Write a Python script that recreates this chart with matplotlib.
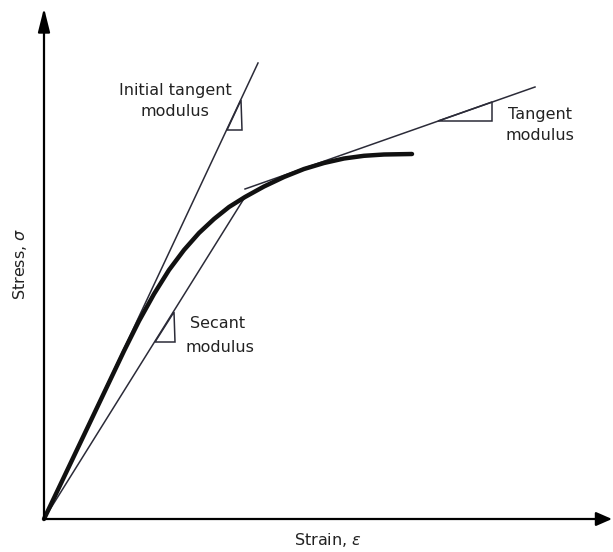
import numpy as np
import matplotlib.pyplot as plt
from matplotlib.patches import Polygon

# stress-strain curve (arbitrary units, origin at the axes corner)
strain = [0, 20, 40, 60, 80, 95, 110, 125, 140, 155, 170, 185, 201,
          220, 240, 260, 280, 300, 320, 340, 368]
stress = [0, 42, 84, 126, 168, 198, 225, 249, 269, 286, 300, 312, 322,
          332.5, 342, 350, 356, 360.5, 363.2, 364.5, 365]

# construction lines: (x0, y0, x1, y1)
initial_tangent = [0, 0, 214, 456]
secant = [0, 0, 201, 322]
tangent = [201, 330, 491, 432]

# slope triangles
tri_initial = [(197, 419), (198, 389), (183, 389)]
tri_secant = [(130, 207), (131, 177), (111, 177)]
tri_tangent = [(394, 398), (448, 398), (448, 417)]

line_col = '#2b2b38'
fs = 11.5

fig = plt.figure(figsize=(6.13, 5.52), dpi=100)
ax = fig.add_axes([0, 0, 1, 1])
ax.set_xlim(-44, 569)
ax.set_ylim(-33, 519)
ax.axis('off')

# axes with arrows
ax.annotate('', xy=(568, 0), xytext=(0, 0),
            arrowprops=dict(arrowstyle='-|>,head_length=0.8,head_width=0.35', lw=1.6,
                            color='k', mutation_scale=12, shrinkA=0, shrinkB=0))
ax.annotate('', xy=(0, 511), xytext=(0, 0),
            arrowprops=dict(arrowstyle='-|>,head_length=1.2,head_width=0.3', lw=1.6,
                            color='k', mutation_scale=12, shrinkA=0, shrinkB=0))

for ln in (initial_tangent, secant, tangent):
    ax.plot([ln[0], ln[2]], [ln[1], ln[3]], color=line_col, lw=1.1)

for tri in (tri_initial, tri_secant, tri_tangent):
    ax.add_patch(Polygon(tri, closed=True, fill=False, ec=line_col, lw=1.1))

ax.plot(strain, stress, color='#111111', lw=3.2, solid_capstyle='round', solid_joinstyle='round')

# labels
ax.text(131, 429, 'Initial tangent', ha='center', va='center', fontsize=fs, color='#222')
ax.text(131, 407, 'modulus', ha='center', va='center', fontsize=fs, color='#222')
ax.text(174, 196, 'Secant', ha='center', va='center', fontsize=fs, color='#222')
ax.text(176, 172, 'modulus', ha='center', va='center', fontsize=fs, color='#222')
ax.text(496, 404, 'Tangent', ha='center', va='center', fontsize=fs, color='#222')
ax.text(496, 384, 'modulus', ha='center', va='center', fontsize=fs, color='#222')

ax.text(284, -21, r'Strain, $\epsilon$', ha='center', va='center', fontsize=fs, color='#222')
ax.text(-24, 255, r'Stress, $\sigma$', ha='center', va='center', fontsize=fs,
        rotation=90, color='#222')

plt.savefig('out.png', dpi=100)
